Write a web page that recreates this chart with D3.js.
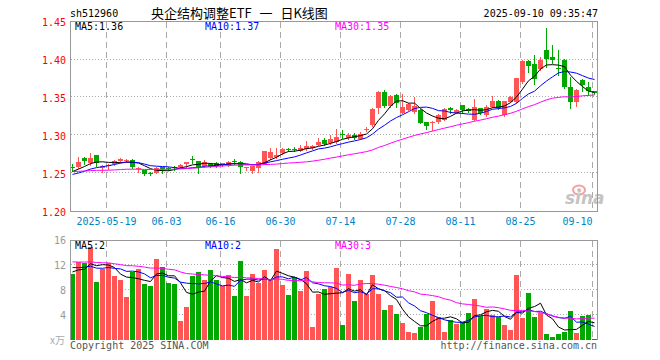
<!DOCTYPE html>
<html><head><meta charset="utf-8">
<script src="https://cdn.jsdelivr.net/npm/d3@7"></script>
<style>html,body{margin:0;padding:0;background:#fff;} svg{display:block;}</style>
</head><body><svg id="c" width="660" height="360"></svg>
<script>
// ---------- data ----------
const symbol = "sh512960";
const title = "央企结构调整ETF 一 日K线图";
const timestamp = "2025-09-10 09:35:47";

const dates = [
 "05-09","05-12","05-13","05-14","05-15","05-16","05-19","05-20","05-21","05-22","05-23",
 "05-26","05-27","05-28","05-29","05-30",
 "06-03","06-04","06-05","06-06","06-09","06-10","06-11","06-12","06-13",
 "06-16","06-17","06-18","06-19","06-20","06-23","06-24","06-25","06-26","06-27","06-30",
 "07-01","07-02","07-03","07-04","07-07","07-08","07-09","07-10","07-11",
 "07-14","07-15","07-16","07-17","07-18","07-21","07-22","07-23","07-24","07-25",
 "07-28","07-29","07-30","07-31","08-01","08-04","08-05","08-06","08-07","08-08",
 "08-11","08-12","08-13","08-14","08-15","08-18","08-19","08-20","08-21","08-22",
 "08-25","08-26","08-27","08-28","08-29","09-01","09-02","09-03","09-04","09-05",
 "09-08","09-09","09-10"];

const open = [1.259,1.259,1.271,1.264,1.274,1.257,1.260,1.262,1.266,1.267,
 1.268,1.256,1.254,1.251,1.251,1.258,1.257,1.258,1.259,1.263,
 1.269,1.266,1.260,1.263,1.264,1.261,1.261,1.267,1.265,1.257,
 1.253,1.257,1.263,1.270,1.272,1.277,1.282,1.282,1.279,1.282,
 1.283,1.287,1.294,1.290,1.291,1.302,1.297,1.300,1.296,1.307,
 1.314,1.336,1.357,1.339,1.353,1.330,1.334,1.331,1.334,1.318,
 1.316,1.318,1.321,1.336,1.329,1.340,1.335,1.321,1.336,1.327,
 1.338,1.346,1.327,1.344,1.344,1.371,1.398,1.394,1.387,1.413,
 1.403,1.389,1.400,1.364,1.344,1.373,1.364,1.358];
const high = [1.262,1.272,1.272,1.277,1.275,1.261,1.263,1.268,1.270,1.269,
 1.269,1.258,1.255,1.252,1.258,1.258,1.258,1.260,1.262,1.265,
 1.273,1.267,1.268,1.264,1.265,1.264,1.266,1.269,1.266,1.259,
 1.260,1.266,1.280,1.283,1.283,1.283,1.284,1.285,1.287,1.293,
 1.287,1.297,1.297,1.300,1.309,1.307,1.303,1.303,1.304,1.311,
 1.336,1.359,1.360,1.353,1.354,1.354,1.343,1.350,1.335,1.318,
 1.319,1.328,1.336,1.337,1.335,1.340,1.336,1.348,1.336,1.340,
 1.352,1.347,1.346,1.352,1.376,1.399,1.399,1.406,1.403,1.442,
 1.419,1.413,1.401,1.377,1.361,1.374,1.371,1.359];
const low = [1.253,1.257,1.263,1.261,1.260,1.252,1.256,1.261,1.265,1.265,
 1.257,1.252,1.248,1.248,1.250,1.251,1.254,1.255,1.258,1.259,
 1.264,1.251,1.259,1.258,1.259,1.260,1.260,1.263,1.251,1.254,
 1.250,1.252,1.262,1.269,1.271,1.276,1.279,1.280,1.279,1.281,
 1.282,1.287,1.288,1.289,1.290,1.297,1.296,1.296,1.295,1.306,
 1.312,1.330,1.337,1.338,1.338,1.329,1.333,1.330,1.316,1.309,
 1.307,1.317,1.321,1.330,1.329,1.330,1.331,1.320,1.328,1.326,
 1.337,1.335,1.326,1.344,1.343,1.369,1.384,1.368,1.386,1.390,
 1.395,1.379,1.362,1.336,1.339,1.358,1.353,1.354];
const close = [1.258,1.265,1.267,1.271,1.264,1.260,1.261,1.267,1.269,1.268,
 1.258,1.257,1.249,1.250,1.257,1.256,1.256,1.257,1.261,1.265,
 1.268,1.259,1.265,1.259,1.260,1.264,1.265,1.266,1.259,1.258,
 1.260,1.265,1.279,1.278,1.275,1.282,1.281,1.281,1.284,1.286,
 1.286,1.292,1.289,1.295,1.298,1.301,1.301,1.297,1.302,1.309,
 1.335,1.357,1.339,1.352,1.343,1.338,1.341,1.339,1.317,1.313,
 1.318,1.327,1.335,1.333,1.334,1.333,1.332,1.338,1.329,1.338,
 1.346,1.336,1.345,1.351,1.375,1.398,1.391,1.374,1.400,1.401,
 1.400,1.388,1.364,1.344,1.360,1.366,1.358,1.356];
// volume, in 万
const volume = [10.56,12.53,12.27,14.83,9.28,11.36,12.27,10.24,9.6,6.88,
 10.93,11.36,8.96,8.64,12.96,11.68,9.12,8.96,3.04,5.28,
 10.24,10.88,9.6,11.2,9.6,8.64,10.4,7.04,12.64,7.04,
 10.56,9.17,11.2,9.6,14.56,8.8,7.2,10.08,7.89,11.04,
 2.08,7.36,8.16,8.43,11.47,2.4,10.56,6.24,9.6,7.36,
 10.4,7.36,4.8,5.6,4.16,2.72,1.28,1.12,2.08,4.16,
 6.24,3.68,1.28,3.2,2.56,2.88,4.32,6.56,3.84,4.96,
 4.0,3.63,2.4,1.6,10.4,3.52,7.52,3.68,4.32,0.96,
 0.48,0.96,1.28,4.64,1.12,3.84,4.0,0.16];
// sessions before the window (estimated from where the MA lines start)
const priorCloses = [1.254,1.256,1.255,1.253,1.257,1.258,1.256,1.254,1.255,1.257,
 1.259,1.256,1.254,1.252,1.253,1.255,1.254,1.251,1.250,1.248,
 1.246,1.244,1.243,1.245,1.247,1.249,1.250,1.252,1.254];
const priorVolumes = [13.5,12.1,14.2,11.8,13.0,12.6,14.8,13.3,12.0,11.5,
 13.9,12.7,13.6,12.2,14.1,12.9,11.7,13.4,12.8,12.9,
 12.8,11.6,13.1,12.4,11.6,10.9,11.8,10.4,10.8];

const priceTicks = [1.20,1.25,1.30,1.35,1.40,1.45];
const priceGrid = [1.25,1.30,1.35,1.40];
const volumeTicks = [4,8,12,16];
const volumeGrid = [4,8,12];
const tickDates = ["05-19","06-03","06-16","06-30","07-14","07-28","08-11","08-25","09-10"];
const tickLabels = ["2025-05-19","06-03","06-16","06-30","07-14","07-28","08-11","08-25","09-10"];
const maPeriods = [5,10,30];
const maColors = ["#000000","#0000ff","#ff00ff"];

// ---------- layout ----------
const L = 70.5, R = 597.5;
const pTop = 21.5, pBot = 211.5;
const vTop = 240.5, vBot = 340;
const UP = "#ff5555", DOWN = "#00a800";
const GRID = "#aaaaaa";
const mono = "'DejaVu Sans Mono', 'Liberation Mono', monospace";
const CHAR_W = 6.02;

const svg = d3.select("#c");
const x = d3.scaleBand().domain(dates).range([69.5, 597.5]).paddingInner(1/6).paddingOuter(1/12);
const bw = x.bandwidth();
const cx = d => x(d) + Math.floor(bw/2) + 0.5;
const y = d3.scaleLinear().domain([1.20, 1.45]).range([pBot, pTop]);
const yv = d3.scaleLinear().domain([0, 16]).range([vBot, vTop - 0.5]);

const rows = dates.map((d,i)=>({d, o:open[i], h:high[i], l:low[i], c:close[i], v:volume[i]}));

function movingAvg(prior, vals, n){
  const all = prior.concat(vals);
  const off = prior.length;
  return vals.map((_,i)=>d3.mean(all.slice(off+i-n+1, off+i+1)));
}

// ---------- header ----------
svg.append("text").attr("x",70).attr("y",17).attr("font-family",mono).attr("font-size",10).attr("fill","#000").text(symbol);
svg.append("text").attr("x",151).attr("y",18).attr("font-family","'Noto Sans CJK SC', sans-serif").attr("font-size",13)
  .attr("word-spacing",5).attr("fill","#000").text(title);
svg.append("text").attr("x",598).attr("y",17).attr("text-anchor","end").attr("font-family",mono).attr("font-size",10).attr("fill","#000").text(timestamp);

// ---------- grids ----------
const g = svg.append("g");
g.selectAll("line.pg").data(priceGrid).join("line")
  .attr("x1",L).attr("x2",R).attr("y1",d=>Math.round(y(d))-0.5).attr("y2",d=>Math.round(y(d))-0.5)
  .attr("stroke",GRID).attr("stroke-dasharray","1,2").attr("shape-rendering","crispEdges");
g.selectAll("line.vg").data(volumeGrid).join("line")
  .attr("x1",L).attr("x2",R).attr("y1",d=>Math.round(yv(d))-0.5).attr("y2",d=>Math.round(yv(d))-0.5)
  .attr("stroke",GRID).attr("stroke-dasharray","1,2").attr("shape-rendering","crispEdges");
[[pTop,pBot],[vTop,vBot]].forEach(([t,b])=>{
  g.append("g").selectAll("line").data(tickDates).join("line")
    .attr("x1",d=>x(d)+0.5).attr("x2",d=>x(d)+0.5).attr("y1",t).attr("y2",b)
    .attr("stroke",GRID).attr("stroke-dasharray","6,4").attr("shape-rendering","crispEdges");
});

// sina watermark
const wm = svg.append("g");
wm.append("ellipse").attr("cx",579).attr("cy",190).attr("rx",6).attr("ry",4.5).attr("fill","none").attr("stroke","#f4a0a0").attr("stroke-width",2);
wm.append("circle").attr("cx",579).attr("cy",190).attr("r",1.8).attr("fill","#f4a0a0");
wm.append("text").attr("x",565).attr("y",204).attr("font-family","'DejaVu Sans', sans-serif").attr("font-style","italic").attr("font-weight","bold").attr("font-size",17).attr("fill","#c4c4c4").text("sina");

// ---------- candles ----------
const cg = svg.append("g");
cg.selectAll("line.wick").data(rows).join("line")
  .attr("x1",d=>cx(d.d)).attr("x2",d=>cx(d.d))
  .attr("y1",d=>Math.round(y(d.h))).attr("y2",d=>Math.round(y(d.l))+1)
  .attr("stroke",d=>d.c>=d.o?UP:DOWN).attr("shape-rendering","crispEdges");
cg.selectAll("rect.body").data(rows).join("rect")
  .attr("x",d=>x(d.d)).attr("width",bw)
  .attr("y",d=>Math.round(y(Math.max(d.o,d.c))))
  .attr("height",d=>Math.max(1, Math.round(y(Math.min(d.o,d.c))) - Math.round(y(Math.max(d.o,d.c)))))
  .attr("fill",d=>d.c>=d.o?UP:DOWN).attr("shape-rendering","crispEdges");

// ---------- volume bars ----------
svg.append("g").selectAll("rect").data(rows).join("rect")
  .attr("x",d=>x(d.d)).attr("width",bw)
  .attr("y",d=>Math.round(yv(d.v))).attr("height",d=>vBot-Math.round(yv(d.v)))
  .attr("fill",d=>d.c>=d.o?UP:DOWN).attr("shape-rendering","crispEdges");

// ---------- moving averages ----------
const priceMA = maPeriods.map(n=>movingAvg(priorCloses, close, n));
const volMA = maPeriods.map(n=>movingAvg(priorVolumes, volume, n));
const lp = d3.line().x((v,i)=>cx(dates[i])).y(v=>y(v));
const lv = d3.line().x((v,i)=>cx(dates[i])).y(v=>yv(v));
priceMA.forEach((s,k)=>svg.append("path").attr("d",lp(s)).attr("fill","none").attr("stroke",maColors[k]).attr("stroke-width",1));
volMA.forEach((s,k)=>svg.append("path").attr("d",lv(s)).attr("fill","none").attr("stroke",maColors[k]).attr("stroke-width",1));

// ---------- frames ----------
svg.append("rect").attr("x",L).attr("y",pTop).attr("width",R-L).attr("height",pBot-pTop)
  .attr("fill","none").attr("stroke","#999").attr("shape-rendering","crispEdges");
svg.append("path").attr("d",`M${L},${vBot}V${vTop}H${R}V${vBot}`)
  .attr("fill","none").attr("stroke","#999").attr("shape-rendering","crispEdges");

// ---------- axis labels ----------
svg.append("g").selectAll("text").data(priceTicks).join("text")
  .attr("x",66).attr("y",d=>y(d)+4.5).attr("text-anchor","end")
  .attr("font-family",mono).attr("font-size",10).attr("fill","#ff0000").text(d=>d.toFixed(2));
svg.append("g").selectAll("text").data(volumeTicks).join("text")
  .attr("x",66).attr("y",d=>yv(d)+4).attr("text-anchor","end")
  .attr("font-family",mono).attr("font-size",10).attr("fill","#999").text(d=>d);
svg.append("text").attr("x",65).attr("y",344).attr("text-anchor","end")
  .attr("font-family","'Noto Sans CJK SC', serif").attr("font-size",10).attr("fill","#aaa").text("x万");
svg.append("g").selectAll("text").data(tickDates).join("text")
  .each(function(d,i){
    const lab = tickLabels[i];
    const xc = x(d)+0.5;
    const half = lab.length*CHAR_W/2;
    const fits = xc + half <= R;
    d3.select(this).attr("x", fits ? xc : xc).attr("text-anchor", fits ? "middle" : "end");
  })
  .attr("y",225).attr("font-family",mono).attr("font-size",10).attr("fill","#0084c8")
  .text((d,i)=>tickLabels[i]);

// ---------- MA legends ----------
const legX = [75,205,335];
const last = dates.length-1;
maPeriods.forEach((n,k)=>{
  svg.append("text").attr("x",legX[k]).attr("y",30).attr("font-family",mono).attr("font-size",10)
    .attr("fill",maColors[k]).text(`MA${n}:${priceMA[k][last].toFixed(2)}`);
  svg.append("text").attr("x",legX[k]).attr("y",249).attr("font-family",mono).attr("font-size",10)
    .attr("fill",maColors[k]).text(`MA${n}:${Math.floor(volMA[k][last])}`);
});

// ---------- footer ----------
svg.append("text").attr("x",70).attr("y",349).attr("font-family",mono).attr("font-size",10).attr("fill","#555").text("Copyright 2025 SINA.COM");
svg.append("text").attr("x",597).attr("y",349).attr("text-anchor","end").attr("font-family",mono).attr("font-size",10).attr("fill","#555").text("http://finance.sina.com.cn");
</script></body></html>
